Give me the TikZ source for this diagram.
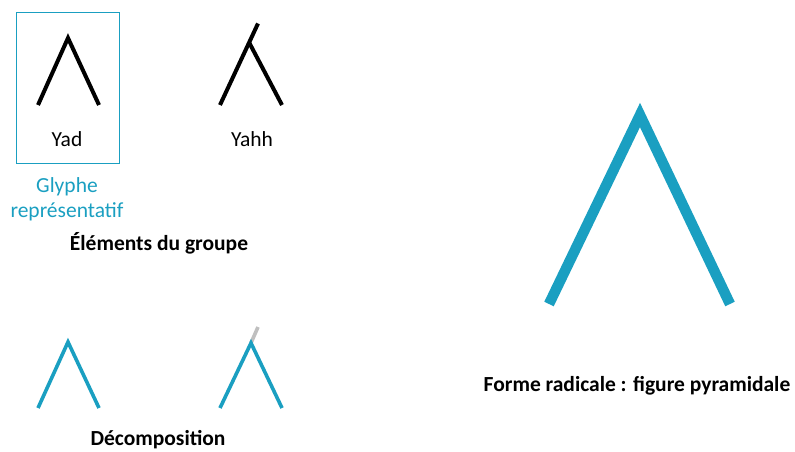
\documentclass[tikz,border=0pt]{standalone}
\usepackage{fontspec}
\setmainfont{Carlito}
\definecolor{glyphblue}{HTML}{1A9FC1}
\definecolor{stubgray}{HTML}{BFBFBF}
\begin{document}
\begin{tikzpicture}[x=1pt,y=-1pt,
  lbl/.style={font=\fontsize{21.5}{25}\selectfont, inner sep=0pt, anchor=base},
  blbl/.style={font=\fontsize{21.5}{25}\selectfont\bfseries, inner sep=0pt, anchor=base},
  blackglyph/.style={line width=4pt, black, line join=miter},
  blueglyph/.style={line width=3.6pt, glyphblue, line join=miter},
  bigglyph/.style={line width=10.5pt, glyphblue, line join=miter},
  frame/.style={draw=glyphblue, line width=0.8pt}]
\useasboundingbox (0,0) rectangle (795,451);

% representative glyph frame
\draw[frame] (16.7,12.3) rectangle (119.3,163.3);

% Yad
\draw[blackglyph] (38,105) -- (68,38) -- (99,105);
\node[lbl] (yad) at (67,146) {Yad};

% Yahh
\coordinate (yl) at (220,105);
\coordinate (yt) at (258,23.5);
\coordinate (yj) at (249.4,43);
\coordinate (yr) at (282,105);
\draw[blackglyph] (yl) -- (yt);
\draw[blackglyph] (yj) -- (yr);
\node[lbl] (yahh) at (252,146) {Yahh};

\node[lbl, text=glyphblue] (gl1) at (67,192) {Glyphe};
\node[lbl, text=glyphblue] (gl2) at (67,217) {représentatif};
\node[blbl] (elem) at (159,250) {Éléments du groupe};

% decomposition
\draw[blueglyph] (38,408) -- (68,342) -- (99,408);
\draw[line width=3.6pt, stubgray] (251,343) -- (258,327);
\draw[blueglyph] (220,408) -- (251,343) -- (282,408);
\node[blbl] (dec) at (158,445) {Décomposition};

% radical form
\draw[bigglyph] (549,304) -- (640,115) -- (730,304);
\node[blbl] (rad) at (637,391) {Forme radicale : figure pyramidale};
\end{tikzpicture}
\end{document}
